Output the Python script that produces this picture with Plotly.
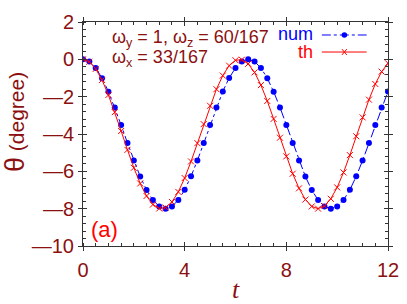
import plotly.graph_objects as go

# time samples
t = [0.0, 0.25, 0.5, 0.75, 1.0, 1.25, 1.5, 1.75, 2.0, 2.25, 2.5, 2.75,
     3.0, 3.25, 3.5, 3.75, 4.0, 4.25, 4.5, 4.75, 5.0, 5.25, 5.5, 5.75,
     6.0, 6.25, 6.5, 6.75, 7.0, 7.25, 7.5, 7.75, 8.0, 8.25, 8.5, 8.75,
     9.0, 9.25, 9.5, 9.75, 10.0, 10.25, 10.5, 10.75, 11.0, 11.25, 11.5, 11.75, 12.0]

# numerical result (blue)
theta_num = [0.0, -0.12, -0.46, -1.01, -1.73, -2.58, -3.52, -4.48, -5.42, -6.28, -7.0, -7.54,
             -7.88, -8.0, -7.88, -7.54, -6.99, -6.27, -5.42, -4.48, -3.52, -2.58, -1.72, -1.0,
             -0.46, -0.12, 0.0, -0.12, -0.46, -1.01, -1.73, -2.58, -3.52, -4.48, -5.42, -6.28,
             -7.0, -7.54, -7.88, -8.0, -7.88, -7.54, -6.99, -6.27, -5.42, -4.48, -3.52, -2.58, -1.72]

# theory (red)
theta_th = [0.0, -0.13, -0.51, -1.11, -1.91, -2.83, -3.84, -4.85, -5.81, -6.65, -7.32, -7.78,
            -7.99, -7.94, -7.64, -7.1, -6.36, -5.47, -4.49, -3.47, -2.49, -1.6, -0.87, -0.34,
            -0.05, -0.02, -0.24, -0.7, -1.38, -2.23, -3.19, -4.2, -5.2, -6.13, -6.91, -7.51,
            -7.88, -8.0, -7.86, -7.47, -6.86, -6.06, -5.13, -4.12, -3.11, -2.16, -1.32, -0.66, -0.21]

x_ticks = [0, 4, 8, 12]
x_ticktext = ["0", "4", "8", "12"]
y_ticks = [2, 0, -2, -4, -6, -8, -10]
y_ticktext = ["2", "0", "—2", "—4", "—6", "—8", "—10"]

DARKRED = "#8b1010"
BLUE = "#0000ff"
RED = "#ff0000"
FRAME = "#333333"
FONT = "Liberation Sans"

fig = go.Figure()
fig.add_trace(go.Scatter(x=t, y=theta_num, mode="lines+markers", name="num",
                         line=dict(color=BLUE, width=1, dash="dashdot"),
                         marker=dict(symbol="circle", size=6, color=BLUE)))
fig.add_trace(go.Scatter(x=t, y=theta_th, mode="lines+markers", name="th",
                         line=dict(color=RED, width=1),
                         marker=dict(symbol="x-thin", size=6, color=RED,
                                     line=dict(color=RED, width=1))))
# invisible trace to carry the overlay axes (inside tick marks)
fig.add_trace(go.Scatter(x=[t[0]], y=[theta_th[0]], xaxis="x2", yaxis="y2",
                         mode="markers", marker=dict(opacity=0), hoverinfo="skip",
                         showlegend=False))

fig.update_layout(
    width=407, height=304,
    margin=dict(l=83, r=19, t=22, b=58, autoexpand=False),
    paper_bgcolor="white", plot_bgcolor="white",
    showlegend=False,
    font=dict(family=FONT, color=DARKRED),
    xaxis=dict(range=[0, 12], tickvals=x_ticks, ticktext=x_ticktext, ticks="outside", ticklen=4,
               tickcolor=FRAME, showline=True, linecolor=FRAME, linewidth=1,
               mirror="ticks", showgrid=False, zeroline=False, automargin=False,
               ticklabelstandoff=2,
               tickfont=dict(size=20, color=DARKRED, family=FONT),
               minor=dict(dtick=0.5, ticks="inside", ticklen=3, tickcolor=FRAME),
               title=dict(text="<i>t</i>", font=dict(size=26, color=DARKRED, family="Liberation Serif"),
                          standoff=4)),
    yaxis=dict(range=[-10, 2], tickvals=y_ticks, ticktext=y_ticktext, ticks="outside", ticklen=4,
               tickcolor=FRAME, showline=True, linecolor=FRAME, linewidth=1,
               mirror="ticks", showgrid=False, zeroline=False, automargin=False,
               tickfont=dict(size=20, color=DARKRED, family=FONT),
               minor=dict(dtick=0.4, ticks="inside", ticklen=3, tickcolor=FRAME)),
    xaxis2=dict(range=[0, 12], overlaying="x", tickvals=x_ticks, ticks="inside",
                ticklen=4, tickcolor=FRAME, showticklabels=False, mirror="ticks",
                showline=False, showgrid=False, zeroline=False),
    yaxis2=dict(range=[-10, 2], overlaying="y", tickvals=y_ticks, ticks="inside",
                ticklen=4, tickcolor=FRAME, showticklabels=False, mirror="ticks",
                showline=False, showgrid=False, zeroline=False),
)

# y-axis title as rotated annotation
fig.add_annotation(xref="paper", yref="paper", x=-0.225, y=0.555, xanchor="center", yanchor="middle",
                   textangle=-90, showarrow=False,
                   text="<span style='font-size:27px'>θ</span><span style='font-size:21px'> (degree)</span>",
                   font=dict(size=21, color=DARKRED, family=FONT))

# text annotations
fig.add_annotation(xref="paper", yref="paper", x=0.088, y=0.925, xanchor="left", yanchor="middle",
                   text="ω<sub>y</sub> = 1, ω<sub>z</sub> = 60/167", showarrow=False,
                   font=dict(size=18, color=DARKRED, family=FONT))
fig.add_annotation(xref="paper", yref="paper", x=0.088, y=0.835, xanchor="left", yanchor="middle",
                   text="ω<sub>x</sub> = 33/167", showarrow=False,
                   font=dict(size=18, color=DARKRED, family=FONT))
fig.add_annotation(xref="paper", yref="paper", x=0.02, y=0.075, xanchor="left", yanchor="middle",
                   text="(a)", showarrow=False, font=dict(size=22, color=RED, family=FONT))

# manual legend (text left of sample)
fig.add_annotation(xref="paper", yref="paper", x=0.76, y=0.945, xanchor="right", yanchor="middle",
                   text="num", showarrow=False, font=dict(size=18, color=BLUE, family=FONT))
fig.add_annotation(xref="paper", yref="paper", x=0.76, y=0.868, xanchor="right", yanchor="middle",
                   text="th", showarrow=False, font=dict(size=18, color=RED, family=FONT))
fig.add_shape(type="line", xref="paper", yref="paper", x0=0.783, x1=0.93, y0=0.942, y1=0.942,
              line=dict(color=BLUE, width=1, dash="dashdot"))
fig.add_shape(type="line", xref="paper", yref="paper", x0=0.783, x1=0.93, y0=0.866, y1=0.866,
              line=dict(color=RED, width=1))
fig.add_shape(type="circle", xref="paper", yref="paper", x0=0.848, x1=0.866, y0=0.930, y1=0.954,
              line=dict(color=BLUE, width=0), fillcolor=BLUE)
fig.add_shape(type="line", xref="paper", yref="paper", x0=0.849, x1=0.865, y0=0.853, y1=0.879,
              line=dict(color=RED, width=1))
fig.add_shape(type="line", xref="paper", yref="paper", x0=0.849, x1=0.865, y0=0.879, y1=0.853,
              line=dict(color=RED, width=1))

fig.write_html("out.html", config={"displayModeBar": False},
               post_script="document.body.style.margin='0px';")
